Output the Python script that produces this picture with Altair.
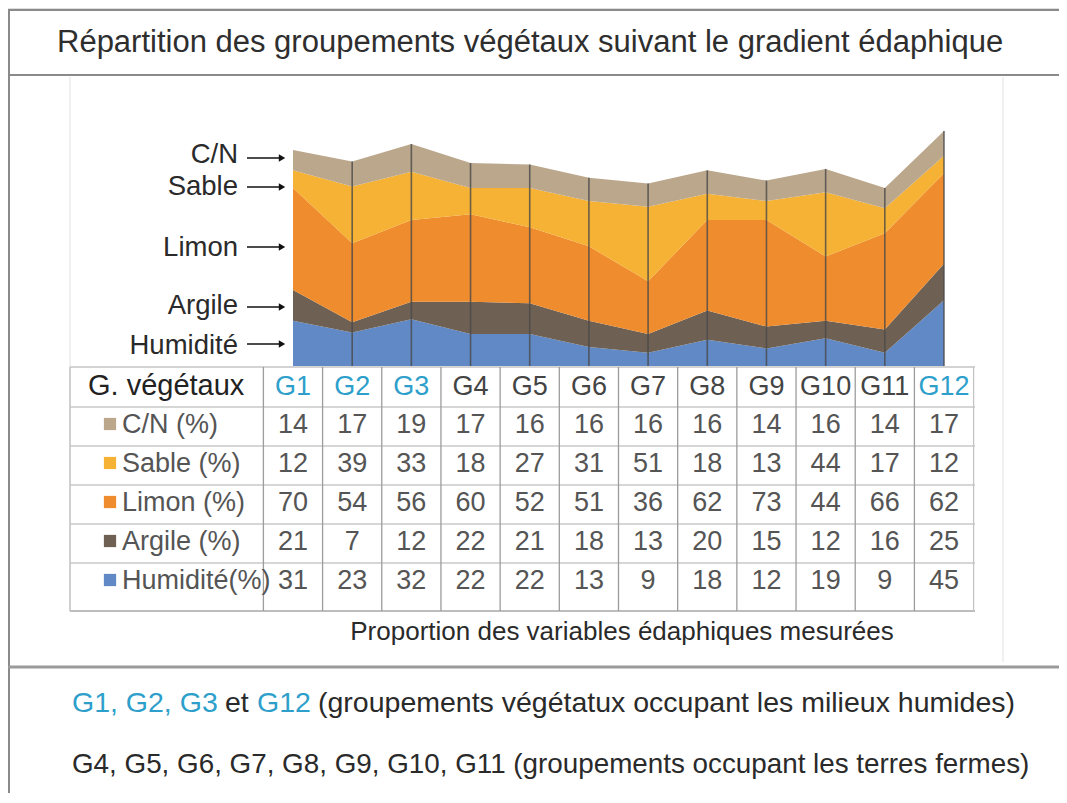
import altair as alt
import pandas as pd

# ---------------- data ----------------
groups = ["G1", "G2", "G3", "G4", "G5", "G6", "G7", "G8", "G9", "G10", "G11", "G12"]
wet_groups = ["G1", "G2", "G3", "G12"]
stack_order = ["Humidité", "Argile", "Limon", "Sable", "C/N"]  # bottom -> top
cn = [14, 17, 19, 17, 16, 16, 16, 16, 14, 16, 14, 17]
sable = [12, 39, 33, 18, 27, 31, 51, 18, 13, 44, 17, 12]
limon = [70, 54, 56, 60, 52, 51, 36, 62, 73, 44, 66, 62]
argile = [21, 7, 12, 22, 21, 18, 13, 20, 15, 12, 16, 25]
humidite = [31, 23, 32, 22, 22, 13, 9, 18, 12, 19, 9, 45]
table_vars = ["C/N", "Sable", "Limon", "Argile", "Humidité"]
table_labels = ["C/N (%)", "Sable (%)", "Limon (%)", "Argile (%)", "Humidité(%)"]

title = "Répartition des groupements végétaux suivant le gradient édaphique"
caption = "Proportion des variables édaphiques mesurées"
header_first = "G. végétaux"
note1_parts = ["G1, G2, G3", "et", "G12", "(groupements végétatux occupant les milieux humides)"]
note2 = "G4, G5, G6, G7, G8, G9, G10, G11 (groupements occupant les terres fermes)"

# ---------------- styles ----------------
FONT = "Liberation Sans"
palette = {"C/N": "#BBA78C", "Sable": "#F5B235", "Limon": "#EF8C2D",
           "Argile": "#6E6053", "Humidité": "#6089C6"}
TEAL = "#2E9FCB"
DARK = "#2a2a2a"
GREY_TXT = "#555555"

series = {"C/N": cn, "Sable": sable, "Limon": limon, "Argile": argile, "Humidité": humidite}
label_of = dict(zip(table_vars, table_labels))

rows = []
for k, var in enumerate(stack_order):
    for g, v in zip(groups, series[var]):
        rows.append({"group": g, "var": var, "value": v, "ord": k, "label": label_of[var]})
long = pd.DataFrame(rows)

tot = long.groupby("group", sort=False)["value"].sum().reset_index(name="total")
tot["zero"] = 0
tot_inner = tot[tot["group"] != "G1"]

hdr = pd.DataFrame({"group": groups,
                    "hcolor": [TEAL if g in wet_groups else "#444444" for g in groups]})
lab = pd.DataFrame({"label": table_labels, "color": [palette[v] for v in table_vars]})


def px(v):
    """page pixel -> chart pixel (page has 8px margin)"""
    return v - 8


W, H = 1051, 785

xs = alt.Scale(type="point", domain=groups, range=[px(293), px(944)], padding=0)
ya = alt.Scale(domain=[0, 100], range=[px(366), px(220)], nice=False, zero=True)
yr = alt.Scale(type="point", domain=table_labels, range=[px(433), px(589)], padding=0)
X = alt.X("group:N", scale=xs, axis=None)

base_blank = alt.Chart(pd.DataFrame({"d": [0]}))


def hline(y, x1, x2, color, w):
    return base_blank.mark_rule(color=color, strokeWidth=w).encode(
        x=alt.value(px(x1)), x2=alt.value(px(x2)), y=alt.value(px(y)))


def vline(x, y1, y2, color, w):
    return base_blank.mark_rule(color=color, strokeWidth=w).encode(
        x=alt.value(px(x)), y=alt.value(px(y1)), y2=alt.value(px(y2)))


def txt(s, x, y, size, color=DARK, align="left"):
    return base_blank.mark_text(text=s, font=FONT, fontSize=size, color=color,
                                align=align, baseline="alphabetic").encode(
        x=alt.value(px(x)), y=alt.value(px(y)))


layers = []

# frame
layers += [
    hline(10, 8, 1059, "#8a8a8a", 2),
    hline(75, 8, 1059, "#8a8a8a", 2),
    vline(9, 10, 803, "#8a8a8a", 2),
    vline(70, 77, 612, "#e2e2e2", 1),
    vline(1003, 77, 662, "#e2e2e2", 1),
    hline(667, 8, 1059, "#9a9a9a", 3),
]

# title
layers.append(txt(title, 57, 52, 31, "#2e2e2e"))

# stacked area
area = alt.Chart(long).mark_area(opacity=1).encode(
    x=X,
    y=alt.Y("value:Q", stack="zero", scale=ya, axis=None),
    color=alt.Color("var:N", scale=alt.Scale(domain=stack_order,
                                             range=[palette[v] for v in stack_order]),
                    legend=None),
    order=alt.Order("ord:Q", sort="ascending"),
)
layers.append(area)

area_rules = alt.Chart(tot_inner).mark_rule(color="#4a4a4a", strokeWidth=1.6, opacity=0.8).encode(
    x=X,
    y=alt.Y("total:Q", scale=ya, axis=None),
    y2="zero:Q",
)
layers.append(area_rules)

# left labels with arrows
for name, ybase, yarrow in [("C/N", 163, 158), ("Sable", 195, 187), ("Limon", 256, 247),
                            ("Argile", 314, 307), ("Humidité", 354, 344)]:
    layers.append(txt(name, 238, ybase, 27.5, DARK, align="right"))
    layers.append(hline(yarrow, 247, 281, "#111111", 1.6))
    layers.append(base_blank.mark_point(shape="triangle-right", filled=True, size=55,
                                        color="#111111", opacity=1).encode(
        x=alt.value(px(282)), y=alt.value(px(yarrow))))

# ---------- table ----------
# horizontal grid lines
layers.append(hline(367, 70, 975, "#c4c4c4", 1.5))
layers.append(hline(611, 70, 975, "#bdbdbd", 2))
layers.append(alt.Chart(lab).mark_rule(color="#c8c8c8", strokeWidth=1.5, yOffset=-26).encode(
    y=alt.Y("label:N", scale=yr, axis=None),
    x=alt.value(px(70)), x2=alt.value(px(975))))
# vertical grid lines
layers.append(vline(70, 367, 611, "#c4c4c4", 1.5))
layers.append(alt.Chart(hdr).mark_rule(color="#9c9c9c", strokeWidth=1.3, xOffset=-29.6).encode(
    x=X, y=alt.value(px(367)), y2=alt.value(px(611))))
layers.append(alt.Chart(hdr[hdr["group"] == "G12"]).mark_rule(
    color="#c4c4c4", strokeWidth=1.3, xOffset=29.6).encode(
    x=X, y=alt.value(px(367)), y2=alt.value(px(611))))

# header
layers.append(txt(header_first, 88, 395, 29, "#222222"))
layers.append(alt.Chart(hdr).mark_text(font=FONT, fontSize=27, baseline="alphabetic",
                                       align="center").encode(
    x=X, y=alt.value(px(395)), text="group:N",
    color=alt.Color("hcolor:N", scale=None)))

# row labels + markers
layers.append(alt.Chart(lab).mark_square(size=150, opacity=1, yOffset=-9).encode(
    x=alt.value(px(110)), y=alt.Y("label:N", scale=yr, axis=None),
    color=alt.Color("color:N", scale=None)))
layers.append(alt.Chart(lab).mark_text(font=FONT, fontSize=27, align="left",
                                       baseline="alphabetic", color=GREY_TXT).encode(
    x=alt.value(px(122)), y=alt.Y("label:N", scale=yr, axis=None), text="label:N"))

# values
layers.append(alt.Chart(long).mark_text(font=FONT, fontSize=27, align="center",
                                        baseline="alphabetic", color=GREY_TXT).encode(
    x=X, y=alt.Y("label:N", scale=yr, axis=None), text="value:Q"))

# caption
layers.append(txt(caption, 622, 640, 26, "#2a2a2a", align="center"))

# notes
NY1 = 712
layers.append(txt(note1_parts[0], 72, NY1, 28.5, TEAL))
layers.append(txt(note1_parts[1], 225, NY1, 28.5, DARK))
layers.append(txt(note1_parts[2], 257, NY1, 28.5, TEAL))
layers.append(txt(note1_parts[3], 318, NY1, 28.5, DARK))
layers.append(txt(note2, 72, 773, 27.8, DARK))

chart = alt.layer(*layers).resolve_scale(y="independent", color="independent").properties(
    width=W, height=H, autosize="none", padding=0
).configure_view(stroke=None).configure(background="white")

chart.save("out.html", embed_options={"renderer": "svg", "actions": False})
